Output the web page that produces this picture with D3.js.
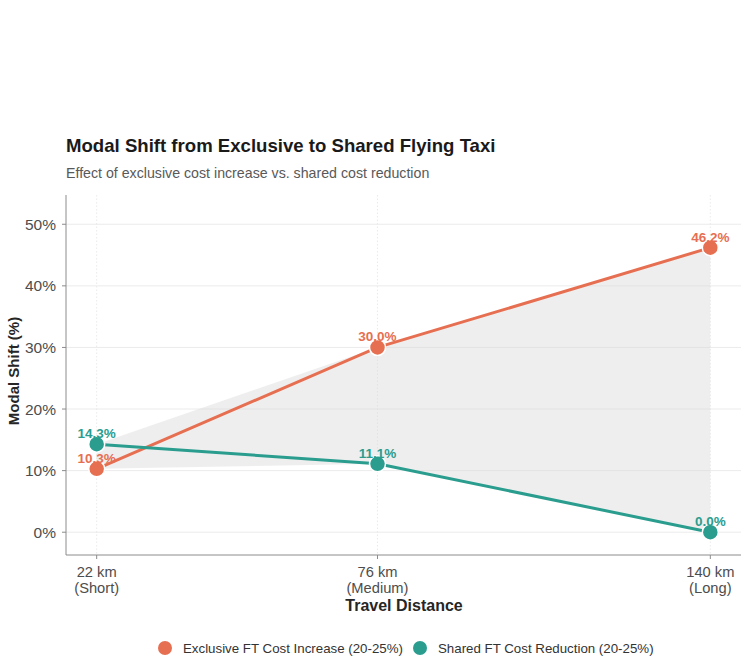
<!DOCTYPE html>
<html lang="en">
<head>
<meta charset="utf-8">
<title>Modal Shift</title>
<script src="https://d3js.org/d3.v7.min.js"></script>
<style>
  body { margin: 0; background: #fff; }
  svg { font-family: "Liberation Sans", Arial, sans-serif; }
</style>
</head>
<body>
<div class="chart"></div>
<script>
// chart data
const distances = [22, 76, 140];
const distanceLabels = ['22 km|(Short)', '76 km|(Medium)', '140 km|(Long)'];
const exclusiveShift = [10.3, 30.0, 46.2];
const sharedShift = [14.3, 11.1, 0.0];
const yTicks = [0, 10, 20, 30, 40, 50];
const seriesNames = ['Exclusive FT Cost Increase (20-25%)', 'Shared FT Cost Reduction (20-25%)'];
const colors = ['#E76F51', '#2A9D8F'];

const width = 749, height = 662;
const margin = {left: 66, right: 8, top: 195, bottom: 107};

const svg = d3.select('.chart').append('svg')
  .attr('width', width).attr('height', height);

const x = d3.scaleLinear()
  .domain([16.1, 145.9])
  .range([margin.left, width - margin.right]);
const y = d3.scaleLinear()
  .domain([-3.7, 54.75])
  .range([height - margin.bottom, margin.top]);

// grid
svg.append('g').selectAll('line').data(yTicks).enter().append('line')
  .attr('x1', margin.left).attr('x2', width - margin.right)
  .attr('y1', d => y(d)).attr('y2', d => y(d))
  .attr('stroke', '#ebebeb').attr('stroke-width', 1);
svg.append('g').selectAll('line').data(distances).enter().append('line')
  .attr('x1', d => x(d)).attr('x2', d => x(d))
  .attr('y1', margin.top).attr('y2', height - margin.bottom)
  .attr('stroke', '#e6e6e6').attr('stroke-width', 0.8)
  .attr('stroke-dasharray', '1.5,2');

// ribbon between the two series
const rows = distances.map((d, i) => ({d: d, a: exclusiveShift[i], b: sharedShift[i]}));
svg.append('path')
  .datum(rows)
  .attr('d', d3.area()
    .x(r => x(r.d))
    .y0(r => y(Math.min(r.a, r.b)))
    .y1(r => y(Math.max(r.a, r.b))))
  .attr('fill', '#d9d9d9').attr('opacity', 0.45);

// axes
svg.append('line')
  .attr('x1', margin.left).attr('x2', margin.left)
  .attr('y1', margin.top).attr('y2', height - margin.bottom)
  .attr('stroke', '#8c8c8c');
svg.append('line')
  .attr('x1', margin.left).attr('x2', width - margin.right)
  .attr('y1', height - margin.bottom).attr('y2', height - margin.bottom)
  .attr('stroke', '#8c8c8c');

svg.append('g').selectAll('line').data(yTicks).enter().append('line')
  .attr('x1', margin.left - 4).attr('x2', margin.left)
  .attr('y1', d => y(d)).attr('y2', d => y(d))
  .attr('stroke', '#8c8c8c');
svg.append('g').selectAll('text').data(yTicks).enter().append('text')
  .attr('x', margin.left - 10).attr('y', d => y(d) + 5.5)
  .attr('text-anchor', 'end')
  .attr('font-size', 15.5).attr('fill', '#4d4d4d')
  .text(d => d + '%');

svg.append('g').selectAll('line').data(distances).enter().append('line')
  .attr('x1', d => x(d)).attr('x2', d => x(d))
  .attr('y1', height - margin.bottom).attr('y2', height - margin.bottom + 4)
  .attr('stroke', '#8c8c8c');
const xt = svg.append('g').selectAll('text').data(distances).enter().append('text')
  .attr('text-anchor', 'middle')
  .attr('font-size', 14.7).attr('fill', '#4d4d4d');
xt.append('tspan')
  .attr('x', d => x(d)).attr('y', height - margin.bottom + 22)
  .text((d, i) => distanceLabels[i].split('|')[0]);
xt.append('tspan')
  .attr('x', d => x(d)).attr('y', height - margin.bottom + 38)
  .text((d, i) => distanceLabels[i].split('|')[1]);

// axis titles
svg.append('text')
  .attr('x', 404).attr('y', 611)
  .attr('text-anchor', 'middle')
  .attr('font-size', 16).attr('font-weight', 'bold').attr('fill', '#262626')
  .text('Travel Distance');
svg.append('text')
  .attr('transform', `translate(19, 371) rotate(-90)`)
  .attr('text-anchor', 'middle')
  .attr('font-size', 15).attr('font-weight', 'bold').attr('fill', '#262626')
  .text('Modal Shift (%)');

// series
const series = [exclusiveShift, sharedShift];
const line = d3.line().x((v, i) => x(distances[i])).y(v => y(v));
series.forEach((vals, s) => {
  svg.append('path')
    .datum(vals)
    .attr('d', line)
    .attr('fill', 'none')
    .attr('stroke', colors[s]).attr('stroke-width', 3);
});
series.forEach((vals, s) => {
  svg.append('g').selectAll('circle').data(vals).enter().append('circle')
    .attr('cx', (v, i) => x(distances[i])).attr('cy', v => y(v))
    .attr('r', 8)
    .attr('fill', colors[s])
    .attr('stroke', '#fff').attr('stroke-width', 1.5);
  svg.append('g').selectAll('text').data(vals).enter().append('text')
    .attr('x', (v, i) => x(distances[i])).attr('y', v => y(v) - 6)
    .attr('text-anchor', 'middle')
    .attr('font-size', 13.5).attr('font-weight', 'bold')
    .attr('fill', colors[s])
    .text(v => v.toFixed(1) + '%');
});

// title
svg.append('text')
  .attr('x', 66).attr('y', 152)
  .attr('font-size', 18.6).attr('font-weight', 'bold').attr('fill', '#1a1a1a')
  .text('Modal Shift from Exclusive to Shared Flying Taxi');
svg.append('text')
  .attr('x', 66).attr('y', 178)
  .attr('font-size', 14.2).attr('fill', '#595959')
  .text('Effect of exclusive cost increase vs. shared cost reduction');

// legend
const legendX = [165, 420];
seriesNames.forEach((name, s) => {
  svg.append('circle')
    .attr('cx', legendX[s]).attr('cy', 648).attr('r', 7)
    .attr('fill', colors[s]);
  svg.append('text')
    .attr('x', legendX[s] + 18).attr('y', 652.5)
    .attr('font-size', 13.3).attr('fill', '#333')
    .text(name);
});
</script>
</body>
</html>
